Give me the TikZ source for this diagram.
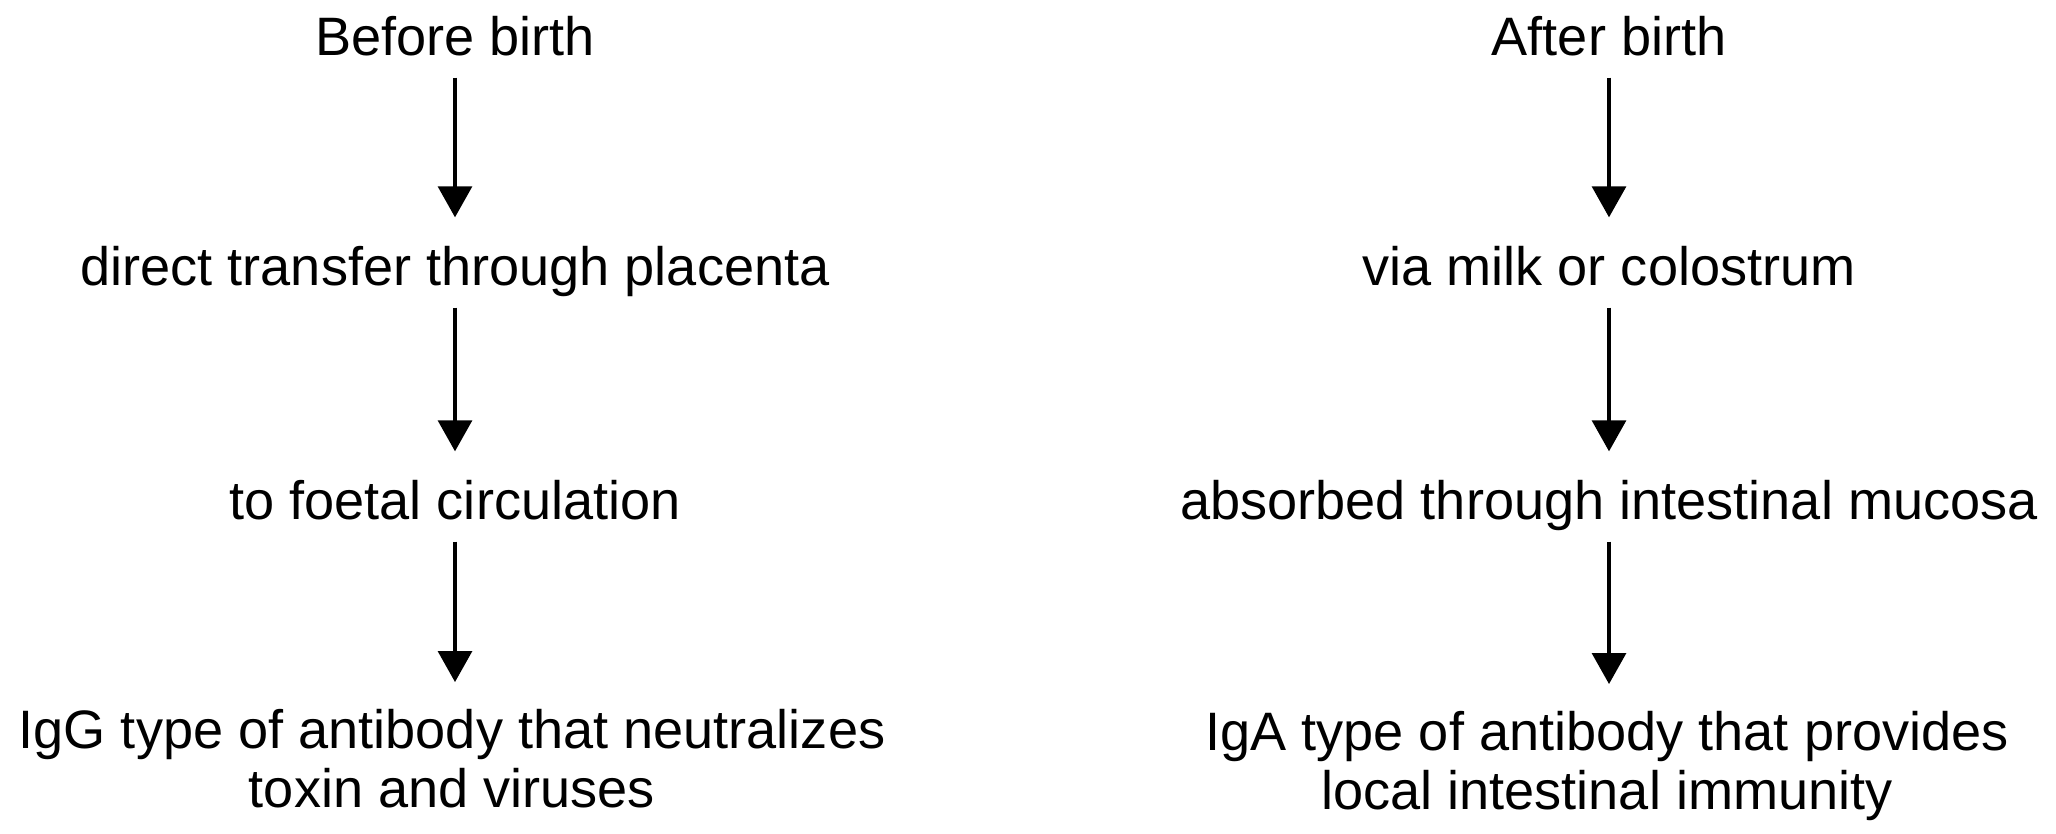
\documentclass[tikz,border=0pt]{standalone}
\usepackage{fontspec}
\setmainfont{Liberation Sans}
\usepackage{xcolor}
\usetikzlibrary{arrows.meta, positioning}

\begin{document}
\begin{tikzpicture}[scale=1,
        lbl/.style={inner sep=0pt, anchor=base, text height=0.4cm, text depth=0.12cm,
            font=\fontsize{15.4}{16.8}\selectfont},
        lbltwo/.style={inner sep=0pt, anchor=north, align=center,
            font=\fontsize{15.4}{16.8}\selectfont},
        arr/.style={-{Triangle[length=0.31cm, width=0.34cm]}, line width=0.9pt,
            shorten <=0.1cm, shorten >=0.27cm}]
        % Frame
        \useasboundingbox (0,0) rectangle (20.56,-8.33);
        % Before birth
        \node[lbl] (before) at (4.55,-0.55) {Before birth};
        \node[lbl] (placenta) at (4.55,-2.85) {direct transfer through placenta};
        \node[lbl] (foetal) at (4.55,-5.19) {to foetal circulation};
        \node[lbltwo] (igg) at (4.52,-7.09) {IgG type of antibody that neutralizes\\ toxin and viruses};
        % After birth
        \node[lbl] (after) at (16.09,-0.55) {After birth};
        \node[lbl] (milk) at (16.09,-2.85) {via milk or colostrum};
        \node[lbl] (mucosa) at (16.09,-5.19) {absorbed through intestinal mucosa};
        \node[lbltwo] (iga) at (16.07,-7.11) {IgA type of antibody that provides\\ local intestinal immunity};
        % Arrows
        \draw[arr] (before.south) -- (before.south |- placenta.north);
        \draw[arr] (placenta.south) -- (placenta.south |- foetal.north);
        \draw[arr] (foetal.south) -- (foetal.south |- igg.north);
        \draw[arr] (after.south) -- (after.south |- milk.north);
        \draw[arr] (milk.south) -- (milk.south |- mucosa.north);
        \draw[arr] (mucosa.south) -- (mucosa.south |- iga.north);
\end{tikzpicture}
\end{document}
